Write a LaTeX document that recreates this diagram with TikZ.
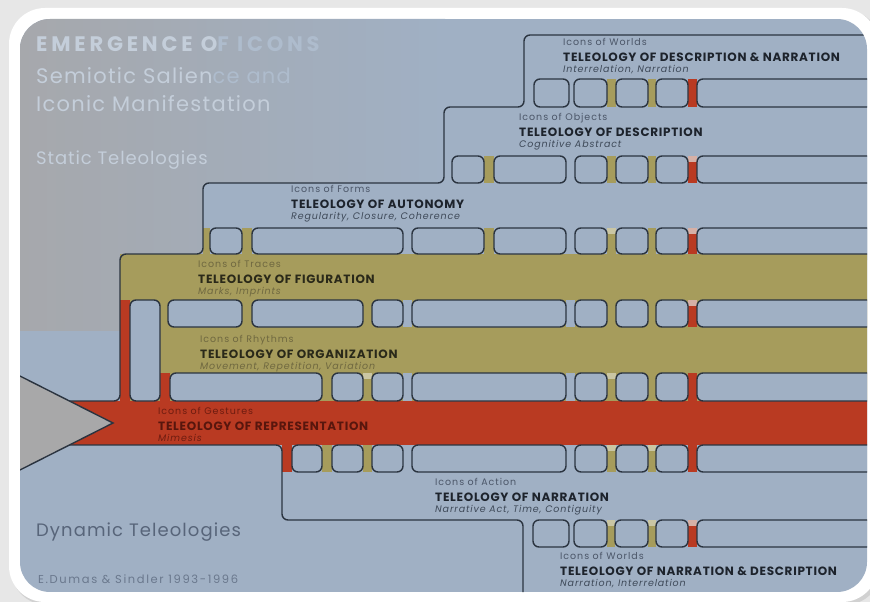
\documentclass[tikz,border=0pt]{standalone}
\usepackage{fontspec}
\setmainfont{Poppins}
\usetikzlibrary{positioning}
\definecolor{pagegray}{HTML}{E7E7E7}
\definecolor{bandblue}{HTML}{A0B0C4}
\definecolor{leftgray}{HTML}{A6A8AC}
\definecolor{bandolive}{HTML}{A69C5C}
\definecolor{bandred}{HTML}{B93A22}
\definecolor{tipolive}{HTML}{CAC6A4}
\definecolor{tipred}{HTML}{D6B0A6}
\definecolor{inkline}{HTML}{2B3440}
\definecolor{arrowgray}{HTML}{A8A8A9}
\definecolor{titlelight}{HTML}{C4CEDA}
\definecolor{iconink}{HTML}{4B5668}
\definecolor{teleink}{HTML}{1D232C}
\definecolor{qualink}{HTML}{3E4958}
\definecolor{oliveink}{HTML}{6F6840}
\definecolor{oliveteleink}{HTML}{2A2919}
\definecolor{redink}{HTML}{6E1C10}
\definecolor{dynink}{HTML}{58657A}

\begin{document}
\begin{tikzpicture}[x=1pt, y=-1pt,
    node distance=5pt,
    cell/.style={draw=inkline, fill=bandblue, line width=1.4pt, rounded corners=6pt},
    edge/.style={draw=inkline, line width=1.4pt, rounded corners=6pt},
    iconsof/.style={font=\fontsize{9.5}{10}\selectfont\addfontfeature{LetterSpace=10}, text=iconink, inner sep=0pt, text height=7pt, text depth=2pt},
    teleo/.style={font=\fontsize{12}{13}\selectfont\bfseries\addfontfeature{LetterSpace=6}, text=teleink, inner sep=0pt, text height=8.5pt, text depth=0pt},
    quals/.style={font=\fontsize{9.5}{10}\selectfont\itshape\addfontfeature{LetterSpace=9}, text=qualink, inner sep=0pt, text height=7pt, text depth=2pt},
    headline/.style={font=\fontsize{21}{24}\selectfont\addfontfeature{LetterSpace=6}, text=titlelight, inner sep=0pt, anchor=base west},
  ]
\useasboundingbox (0,0) rectangle (870,602);

% frame
\fill[pagegray] (0,0) rectangle (870,602);
\fill[black!18, rounded corners=36pt] (11,10) rectangle (881,605);
\fill[white, rounded corners=36pt] (9,8) rectangle (878,602);

\begin{scope}
\clip[rounded corners=30pt] (20,19) rectangle (867,592);
\fill[bandblue] (20,19) rectangle (870,592);
\shade[left color=leftgray, right color=bandblue] (20,19) rectangle (445,330);
\fill[bandblue, rounded corners=6pt] (203,183) rectangle (880,260);

% colored bands
\fill[bandolive] (120,254) rectangle (880,401);
\fill[bandred] (60,401) rectangle (880,445);

% connectors between the bands
\foreach \a/\b/\t/\u/\c in {
    607/616/79/107/bandolive, 648/656/79/107/bandolive, 688/697/79/107/bandred,
    484/494/156/183/bandolive, 607/616/156/183/bandolive, 648/656/156/183/bandolive, 688/697/156/183/bandred,
    203/210/228/254/bandolive, 242/252/228/254/bandolive, 484/494/228/254/bandolive,
    607/616/228/254/bandolive, 648/656/228/254/bandolive, 688/697/228/254/bandred,
    120/130/300/401/bandred, 403/412/300/327/bandblue, 566/575/300/327/bandblue, 688/697/300/327/bandred,
    160/170/373/401/bandred, 403/412/373/401/bandblue, 566/575/373/401/bandblue, 688/697/373/401/bandred,
    282/292/445/472/bandred, 322/332/445/472/bandolive, 363/372/445/472/bandolive,
    607/616/445/472/bandolive, 648/656/445/472/bandolive, 688/697/445/472/bandred,
    607/615/520/547/bandolive, 648/656/520/547/bandolive, 688/697/520/547/bandred}
  \fill[\c] (\a,\t) rectangle (\b,\u);

% pale tops of partly filled connectors
\foreach \a/\b/\t/\c in {688/697/156/tipred, 607/616/228/tipolive, 688/697/228/tipred,
    688/697/300/tipred, 363/372/373/tipolive, 607/616/373/tipolive,
    607/616/445/tipolive, 648/656/445/tipolive,
    607/615/520/tipolive, 648/656/520/tipolive, 688/697/520/tipred}
  \fill[\c] (\a,\t) rectangle (\b,{\t+6});

% cells
\foreach \a/\b in {534/569, 574/607, 616/648, 656/688, 697/900}
  \draw[cell] (\a,79) rectangle (\b,107);
\foreach \a/\b in {452/484, 494/566, 575/607, 616/648, 656/688, 697/900}
  \draw[cell] (\a,156) rectangle (\b,183);
\foreach \a/\b in {210/242, 252/403, 412/484, 494/566, 575/607, 616/648, 656/688, 697/900}
  \draw[cell] (\a,228) rectangle (\b,254);
\foreach \a/\b in {168/242, 252/363, 372/403, 412/566, 575/607, 616/648, 656/688, 697/900}
  \draw[cell] (\a,300) rectangle (\b,327);
\draw[cell] (130,300) rectangle (160,401);
\foreach \a/\b in {170/322, 332/363, 372/403, 412/566, 575/607, 616/648, 656/688, 697/900}
  \draw[cell] (\a,373) rectangle (\b,401);
\foreach \a/\b in {292/322, 332/363, 372/403, 412/566, 575/607, 616/648, 656/688, 697/900}
  \draw[cell] (\a,445) rectangle (\b,472);
\foreach \a/\b in {533/569, 574/607, 615/648, 656/688, 697/900}
  \draw[cell] (\a,520) rectangle (\b,547);

% outer outlines
\draw[edge] (900,35) -- (524,35) -- (524,107) -- (444,107) -- (444,183) -- (203,183)
  -- (203,254) -- (120,254) -- (120,401) -- (69,401);
\draw[edge] (69,445) -- (282,445) -- (282,520) -- (523,520) -- (523,600);
\draw[draw=inkline, fill=arrowgray, line width=1.4pt] (10,371) -- (113,423) -- (10,475);
\end{scope}

% titles
\node[headline, font=\fontsize{21}{24}\selectfont\bfseries\addfontfeature{LetterSpace=18}] (emergence) at (36,52) {EMERGENCE O\textcolor{titlelight!40!bandblue}{F ICONS}};
\node[headline] (salience) at (36,83) {Semiotic Salien\textcolor{titlelight!40!bandblue}{ce and}};
\node[headline] (manifest) at (36,111) {Iconic Manifestation};
\node[headline, font=\fontsize{18}{20}\selectfont\addfontfeature{LetterSpace=5}] (statictel) at (36,164) {Static Teleologies};
\node[headline, font=\fontsize{18}{20}\selectfont\addfontfeature{LetterSpace=6}, text=dynink] (dyntel) at (36,536) {Dynamic Teleologies};
\node[headline, font=\fontsize{11.5}{12}\selectfont\addfontfeature{LetterSpace=14}, text=dynink!75!bandblue] (credit) at (38,583) {E.Dumas \& Sindler 1993-1996};

% labels of the teleologies
\node[iconsof, anchor=west] (worldsa) at (563,43) {Icons of Worlds};
\node[teleo, below=of worldsa.south west, anchor=north west] (descnarr) {TELEOLOGY OF DESCRIPTION \& NARRATION};
\node[quals, below=4pt of descnarr.south west, anchor=north west] (interrela) {Interrelation, Narration};

\node[iconsof, anchor=west] (objects) at (519,118) {Icons of Objects};
\node[teleo, below=of objects.south west, anchor=north west] (descr) {TELEOLOGY OF DESCRIPTION};
\node[quals, below=4pt of descr.south west, anchor=north west] (cognitive) {Cognitive Abstract};

\node[iconsof, anchor=west] (forms) at (291,190) {Icons of Forms};
\node[teleo, below=of forms.south west, anchor=north west] (autonomy) {TELEOLOGY OF AUTONOMY};
\node[quals, below=4pt of autonomy.south west, anchor=north west] (regular) {Regularity, Closure, Coherence};

\node[iconsof, anchor=west, text=oliveink] (traces) at (198,265) {Icons of Traces};
\node[teleo, below=of traces.south west, anchor=north west, text=oliveteleink] (figur) {TELEOLOGY OF FIGURATION};
\node[quals, below=4pt of figur.south west, anchor=north west, text=oliveink] (marks) {Marks, Imprints};

\node[iconsof, anchor=west, text=oliveink] (rhythms) at (200,340) {Icons of Rhythms};
\node[teleo, below=of rhythms.south west, anchor=north west, text=oliveteleink] (organ) {TELEOLOGY OF ORGANIZATION};
\node[quals, below=4pt of organ.south west, anchor=north west, text=oliveink] (movement) {Movement, Repetition, Variation};

\node[iconsof, anchor=west, text=redink] (gestures) at (158,412) {Icons of Gestures};
\node[teleo, below=of gestures.south west, anchor=north west, text=redink!80!black] (repres) {TELEOLOGY OF REPRESENTATION};
\node[quals, below=4pt of repres.south west, anchor=north west, text=redink] (mimesis) {Mimesis};

\node[iconsof, anchor=west] (action) at (435,483) {Icons of Action};
\node[teleo, below=of action.south west, anchor=north west] (narr) {TELEOLOGY OF NARRATION};
\node[quals, below=4pt of narr.south west, anchor=north west] (narract) {Narrative Act, Time, Contiguity};

\node[iconsof, anchor=west] (worldsb) at (560,557) {Icons of Worlds};
\node[teleo, below=of worldsb.south west, anchor=north west] (narrdesc) {TELEOLOGY OF NARRATION \& DESCRIPTION};
\node[quals, below=4pt of narrdesc.south west, anchor=north west] (interrelb) {Narration, Interrelation};

\end{tikzpicture}
\end{document}
